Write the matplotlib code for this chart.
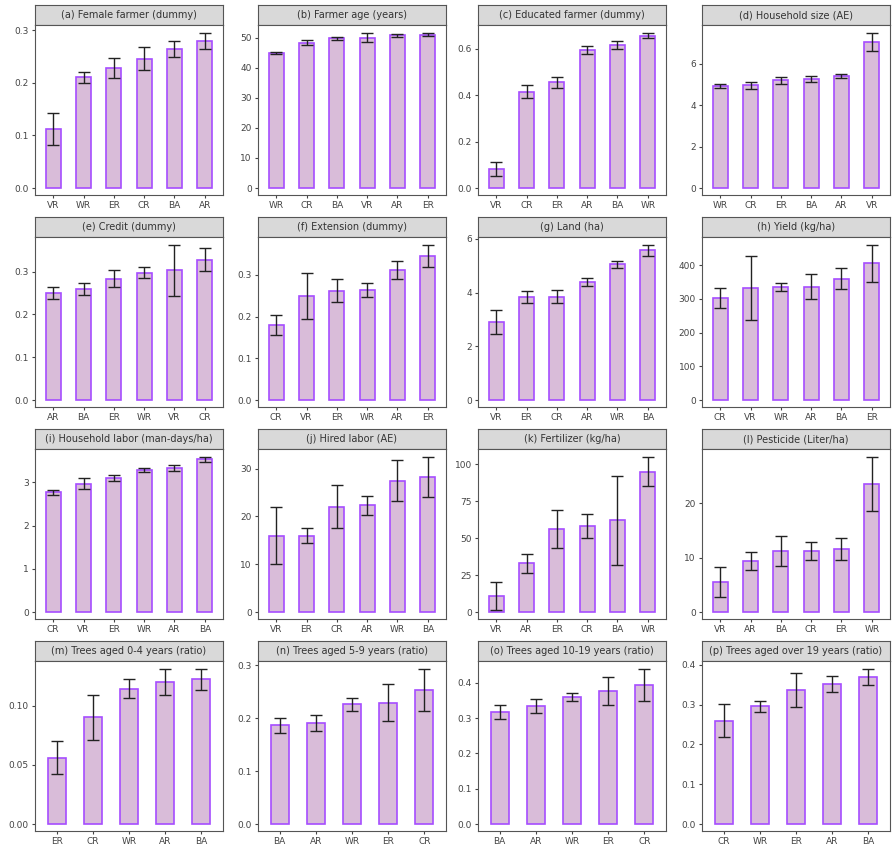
import matplotlib
matplotlib.use("Agg")
import matplotlib.pyplot as plt
from matplotlib.ticker import FormatStrFormatter

titles = ["(a) Female farmer (dummy)", "(b) Farmer age (years)", "(c) Educated farmer (dummy)",
          "(d) Household size (AE)", "(e) Credit (dummy)", "(f) Extension (dummy)", "(g) Land (ha)",
          "(h) Yield (kg/ha)", "(i) Household labor (man-days/ha)", "(j) Hired labor (AE)",
          "(k) Fertilizer (kg/ha)", "(l) Pesticide (Liter/ha)", "(m) Trees aged 0-4 years (ratio)",
          "(n) Trees aged 5-9 years (ratio)", "(o) Trees aged 10-19 years (ratio)",
          "(p) Trees aged over 19 years (ratio)"]
cats = [["VR", "WR", "ER", "CR", "BA", "AR"], ["WR", "CR", "BA", "VR", "AR", "ER"],
        ["VR", "CR", "ER", "AR", "BA", "WR"], ["WR", "CR", "ER", "BA", "AR", "VR"],
        ["AR", "BA", "ER", "WR", "VR", "CR"], ["CR", "VR", "ER", "WR", "AR", "ER"],
        ["VR", "ER", "CR", "AR", "WR", "BA"], ["CR", "VR", "WR", "AR", "BA", "ER"],
        ["CR", "VR", "ER", "WR", "AR", "BA"], ["VR", "ER", "CR", "AR", "WR", "BA"],
        ["VR", "AR", "ER", "CR", "BA", "WR"], ["VR", "AR", "BA", "CR", "ER", "WR"],
        ["ER", "CR", "WR", "AR", "BA"], ["BA", "AR", "WR", "ER", "CR"],
        ["BA", "AR", "WR", "ER", "CR"], ["CR", "WR", "ER", "AR", "BA"]]
means = [[.112, .21, .228, .246, .264, .28], [45, 48.3, 49.8, 50, 50.8, 51],
         [.08, .415, .455, .593, .615, .657], [4.93, 4.97, 5.2, 5.27, 5.42, 7.05],
         [.25, .26, .284, .298, .303, .328], [.18, .25, .262, .263, .312, .345],
         [2.9, 3.82, 3.84, 4.4, 5.05, 5.58], [302, 332, 335, 336, 360, 405],
         [2.77, 2.97, 3.1, 3.28, 3.33, 3.53], [16, 16, 22, 22.3, 27.5, 28.3],
         [11, 33, 56, 58, 62, 95], [5.5, 9.4, 11.2, 11.2, 11.6, 23.5],
         [.056, .09, .114, .12, .122], [.186, .19, .226, .229, .253],
         [.318, .335, .36, .377, .395], [.26, .296, .337, .352, .37]]
errs = [[.03, .011, .019, .022, .016, .015], [.3, .8, .5, 1.5, .5, .6],
        [.03, .028, .022, .017, .018, .012], [.08, .17, .17, .13, .11, .45],
        [.014, .014, .02, .012, .06, .027], [.024, .055, .027, .017, .022, .027],
        [.45, .22, .24, .15, .13, .2], [30, 95, 12, 38, 30, 55],
        [.06, .12, .06, .04, .06, .06], [6, 1.6, 4.5, 2, 4.3, 4.2],
        [9.5, 6.5, 13, 8, 30, 10], [2.7, 1.6, 2.7, 1.7, 2, 5],
        [.014, .019, .008, .011, .009], [.014, .015, .012, .035, .04],
        [.02, .02, .012, .04, .045], [.042, .014, .043, .02, .02]]
yticks = [[0, .1, .2, .3], [0, 10, 20, 30, 40, 50], [0, .2, .4, .6], [0, 2, 4, 6],
          [0, .1, .2, .3], [0, .1, .2, .3], [0, 2, 4, 6], [0, 100, 200, 300, 400],
          [0, 1, 2, 3], [0, 10, 20, 30], [0, 25, 50, 75, 100], [0, 10, 20],
          [0, .05, .10], [0, .1, .2, .3], [0, .1, .2, .3, .4], [0, .1, .2, .3, .4]]
fmts = ["%.1f", "%d", "%.1f", "%d", "%.1f", "%.1f", "%d", "%d", "%d", "%d", "%d", "%d",
        "%.2f", "%.1f", "%.1f", "%.1f"]

W, H = 895, 858
fig = plt.figure(figsize=(W / 100, H / 100), dpi=100)
lefts = [35, 258, 478, 702]
tops = [5, 217, 429, 641]
pw, strip, ph = 188, 20, 170

for i in range(16):
    r, c = divmod(i, 4)
    x0, y0 = lefts[c], tops[r]
    sa = fig.add_axes([x0 / W, 1 - (y0 + strip) / H, pw / W, strip / H])
    sa.set_facecolor("#d9d9d9")
    sa.set_xticks([]); sa.set_yticks([])
    for s in sa.spines.values():
        s.set_color("#555555"); s.set_linewidth(0.8)
    sa.text(0.5, 0.5, titles[i], ha="center", va="center", fontsize=7, color="#333333",
            transform=sa.transAxes)
    ax = fig.add_axes([x0 / W, 1 - (y0 + strip + ph) / H, pw / W, ph / H])
    n = len(cats[i])
    xs = list(range(n))
    ax.bar(xs, means[i], width=0.5, color="#d9bcd9", edgecolor="#a64dff", linewidth=1.2)
    ax.errorbar(xs, means[i], yerr=errs[i], fmt="none", ecolor="#222222", elinewidth=1,
                capsize=4, capthick=1)
    top = max(m + e for m, e in zip(means[i], errs[i]))
    ax.set_ylim(-top * 0.045, top * 1.05)
    ax.set_xlim(-0.6, n - 0.4)
    ax.set_xticks(xs)
    ax.set_xticklabels(cats[i])
    ax.set_yticks(yticks[i])
    ax.yaxis.set_major_formatter(FormatStrFormatter(fmts[i]))
    ax.tick_params(labelsize=6.5, colors="#444444", length=2.5, pad=2)
    for s in ax.spines.values():
        s.set_color("#555555"); s.set_linewidth(0.8)

fig.savefig("out.png", dpi=100)
